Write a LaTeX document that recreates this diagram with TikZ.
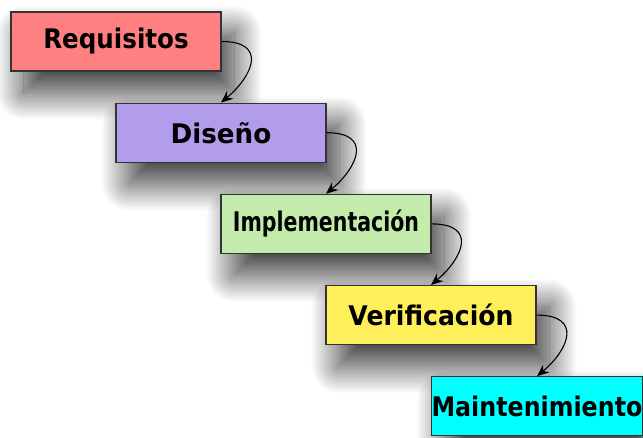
\documentclass[tikz,border=0pt]{standalone}
\usepackage{fontspec}
\setmainfont{DejaVu Sans}
\usetikzlibrary{positioning,shadows.blur,arrows.meta}

\definecolor{reqcol}{RGB}{255,128,128}
\definecolor{discol}{RGB}{177,157,236}
\definecolor{impcol}{RGB}{195,236,170}
\definecolor{vercol}{RGB}{255,239,90}
\definecolor{mancol}{RGB}{0,255,255}

\begin{document}
\begin{tikzpicture}[x=1pt,y=1pt,
    every node/.style={rectangle,draw=black!80,line width=1.2pt,minimum width=210pt,minimum height=59pt,inner sep=0pt,
        font=\bfseries\fontsize{27}{30}\selectfont,
        blur shadow={shadow xshift=13pt,shadow yshift=-21pt,shadow blur radius=28pt,shadow blur steps=40,shadow opacity=80}}]
    \useasboundingbox (0,0) rectangle (643,-437);

    \node[fill=reqcol] (REQ) at (116,-41.5) {\scalebox{0.91}[1]{Requisitos}};
    \node[fill=discol,below=31pt of REQ,xshift=105pt] (DIS) {\scalebox{0.97}[1]{Diseño}};
		\node[fill=impcol,below=31pt of DIS,xshift=105pt] (IMP) {\scalebox{0.76}[1]{Implementación}};
    \node[fill=vercol,below=31pt of IMP,xshift=105pt] (VER) {\scalebox{0.93}[1]{Verificación}};
    \node[fill=mancol,below=31pt of VER,xshift=106pt] (MAN) {\scalebox{0.88}[1]{Maintenimiento}};

    \foreach \u / \v in {REQ/DIS,DIS/IMP,IMP/VER,VER/MAN}
        \draw[-{Stealth[length=12pt,width=10pt]},line width=1.1pt] (\u.east) to[out=0,in=40,out distance=46pt,in distance=42pt] (\v.north);
\end{tikzpicture}
\end{document}
